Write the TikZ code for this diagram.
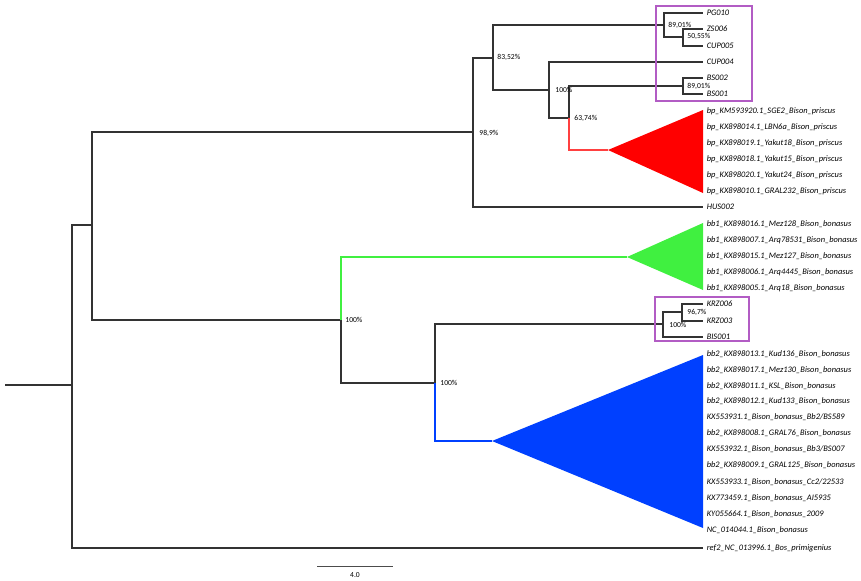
\documentclass[tikz,border=0pt]{standalone}
\usepackage{fontspec}
\setmainfont{Carlito}
\usepackage{xcolor}
\usepackage{tikz}
\usetikzlibrary{positioning}
\definecolor{cladered}{RGB}{255,0,0}
\definecolor{cladegreen}{RGB}{64,240,64}
\definecolor{cladeblue}{RGB}{0,64,255}
\definecolor{boxpurple}{RGB}{178,92,196}

\begin{document}
\begin{tikzpicture}[
      x=0.03cm, y=-0.03cm,
      leaf/.style={anchor=west, inner xsep=3pt, inner ysep=0pt,
        font=\fontsize{7.2}{8}\selectfont\itshape},
      support/.style={anchor=west, inner sep=1pt, font=\fontsize{6.5}{7}\selectfont},
      branch/.style={draw=black!80, line width=1.4pt},
      redbranch/.style={draw=cladered!75, line width=1pt},
      greenbranch/.style={draw=cladegreen, line width=1pt},
      bluebranch/.style={draw=cladeblue, line width=1pt},
      groupbox/.style={draw=boxpurple, line width=1.1pt}
    ]
    \useasboundingbox (0,0) rectangle (861,580);

    % internal nodes
    \coordinate (rootend) at (5,385);
    \coordinate (n72) at (72,385);
    \coordinate (n92) at (92,225);
    \coordinate (n473) at (473,132);
    \coordinate (n493) at (493,58);
    \coordinate (nPG) at (664,25);
    \coordinate (nZS) at (683,37);
    \coordinate (n549) at (549,90);
    \coordinate (n569) at (569,118);
    \coordinate (nBS) at (683,86);
    \coordinate (n341) at (341,320);
    \coordinate (n435) at (435,383);
    \coordinate (nKRZa) at (663,324);
    \coordinate (nKRZb) at (682,312);
    \coordinate (redtip) at (608,150);
    \coordinate (greentip) at (627,257);
    \coordinate (bluetip) at (492,441);

    % collapsed clades
    \fill[cladered] (redtip) -- (703,110) -- (703,193) -- cycle;
    \fill[cladegreen] (greentip) -- (703,223) -- (703,290) -- cycle;
    \fill[cladeblue] (bluetip) -- (703,355) -- (703,528) -- cycle;

    % leaves
    \node[leaf] (pg010) at (703,13) {PG010};
    \node[leaf] (zs006) at (703,29) {ZS006};
    \node[leaf] (cup005) at (703,46) {CUP005};
    \node[leaf] (cup004) at (703,62) {CUP004};
    \node[leaf] (bs002) at (703,78) {BS002};
    \node[leaf] (bs001) at (703,94) {BS001};
    \node[leaf] (bp1) at (703,111) {bp\_KM593920.1\_SGE2\_Bison\_priscus};
    \node[leaf] (bp2) at (703,127) {bp\_KX898014.1\_LBN6a\_Bison\_priscus};
    \node[leaf] (bp3) at (703,143) {bp\_KX898019.1\_Yakut18\_Bison\_priscus};
    \node[leaf] (bp4) at (703,159) {bp\_KX898018.1\_Yakut15\_Bison\_priscus};
    \node[leaf] (bp5) at (703,175) {bp\_KX898020.1\_Yakut24\_Bison\_priscus};
    \node[leaf] (bp6) at (703,191) {bp\_KX898010.1\_GRAL232\_Bison\_priscus};
    \node[leaf] (hus002) at (703,207) {HUS002};
    \node[leaf] (bbone1) at (703,224) {bb1\_KX898016.1\_Mez128\_Bison\_bonasus};
    \node[leaf] (bbone2) at (703,240) {bb1\_KX898007.1\_Arq78531\_Bison\_bonasus};
    \node[leaf] (bbone3) at (703,256) {bb1\_KX898015.1\_Mez127\_Bison\_bonasus};
    \node[leaf] (bbone4) at (703,272) {bb1\_KX898006.1\_Arq4445\_Bison\_bonasus};
    \node[leaf] (bbone5) at (703,288) {bb1\_KX898005.1\_Arq18\_Bison\_bonasus};
    \node[leaf] (krz006) at (703,304) {KRZ006};
    \node[leaf] (krz003) at (703,321) {KRZ003};
    \node[leaf] (bis001) at (703,337) {BIS001};
    \node[leaf] (bbtwo1) at (703,354) {bb2\_KX898013.1\_Kud136\_Bison\_bonasus};
    \node[leaf] (bbtwo2) at (703,370) {bb2\_KX898017.1\_Mez130\_Bison\_bonasus};
    \node[leaf] (bbtwo3) at (703,386) {bb2\_KX898011.1\_KSL\_Bison\_bonasus};
    \node[leaf] (bbtwo4) at (703,401) {bb2\_KX898012.1\_Kud133\_Bison\_bonasus};
    \node[leaf] (bbtwo5) at (703,417) {KX553931.1\_Bison\_bonasus\_Bb2/BS589};
    \node[leaf] (bbtwo6) at (703,433) {bb2\_KX898008.1\_GRAL76\_Bison\_bonasus};
    \node[leaf] (bbtwo7) at (703,449) {KX553932.1\_Bison\_bonasus\_Bb3/BS007};
    \node[leaf] (bbtwo8) at (703,465) {bb2\_KX898009.1\_GRAL125\_Bison\_bonasus};
    \node[leaf] (bbtwo9) at (703,482) {KX553933.1\_Bison\_bonasus\_Cc2/22533};
    \node[leaf] (bbtwo10) at (703,498) {KX773459.1\_Bison\_bonasus\_AI5935};
    \node[leaf] (bbtwo11) at (703,514) {KY055664.1\_Bison\_bonasus\_2009};
    \node[leaf] (bbtwo12) at (703,530) {NC\_014044.1\_Bison\_bonasus};
    \node[leaf] (ref2) at (703,548) {ref2\_NC\_013996.1\_Bos\_primigenius};

    % branches
    \draw[branch] (rootend) -- (n72);
    \draw[branch] (n72) |- (n92);
    \draw[branch] (n72) |- (ref2.west);
    \draw[branch] (n92) |- (n473);
    \draw[branch] (n92) |- (n341);
    \draw[branch] (n473) |- (n493);
    \draw[branch] (n473) |- (hus002.west);
    \draw[branch] (n493) |- (nPG);
    \draw[branch] (n493) |- (n549);
    \draw[branch] (nPG) |- (pg010.west);
    \draw[branch] (nPG) |- (nZS);
    \draw[branch] (nZS) |- (zs006.west);
    \draw[branch] (nZS) |- (cup005.west);
    \draw[branch] (n549) |- (cup004.west);
    \draw[branch] (n549) |- (n569);
    \draw[branch] (n569) |- (nBS);
    \draw[redbranch] (n569) |- (redtip);
    \draw[branch] (nBS) |- (bs002.west);
    \draw[branch] (nBS) |- (bs001.west);
    \draw[greenbranch] (n341) |- (greentip);
    \draw[branch] (n341) |- (n435);
    \draw[branch] (n435) |- (nKRZa);
    \draw[bluebranch] (n435) |- (bluetip);
    \draw[branch] (nKRZa) |- (nKRZb);
    \draw[branch] (nKRZa) |- (bis001.west);
    \draw[branch] (nKRZb) |- (krz006.west);
    \draw[branch] (nKRZb) |- (krz003.west);

    % support values
    \node[support] (s98) at (478,133) {98,9\%};
    \node[support] (s83) at (496,57) {83,52\%};
    \node[support] (s100a) at (554,90) {100\%};
    \node[support] (s63) at (573,118) {63,74\%};
    \node[support] (s89a) at (667,25) {89,01\%};
    \node[support] (s50) at (686,36) {50,55\%};
    \node[support] (s89b) at (686,86) {89,01\%};
    \node[support] (s100b) at (344,320) {100\%};
    \node[support] (s100c) at (439,383) {100\%};
    \node[support] (s96) at (686,312) {96,7\%};
    \node[support] (s100d) at (668,325) {100\%};

    % grouping boxes
    \draw[groupbox] (656,6) rectangle (752,101);
    \draw[groupbox] (655,297) rectangle (749,341);

    % scale bar
    \coordinate (barL) at (317,566);
    \coordinate (barR) at (393,566);
    \draw[black!70, line width=0.6pt] (barL) -- (barR);
    \node[support, anchor=center] (barlabel) at (355,575) {4.0};
  \end{tikzpicture}
\end{document}
